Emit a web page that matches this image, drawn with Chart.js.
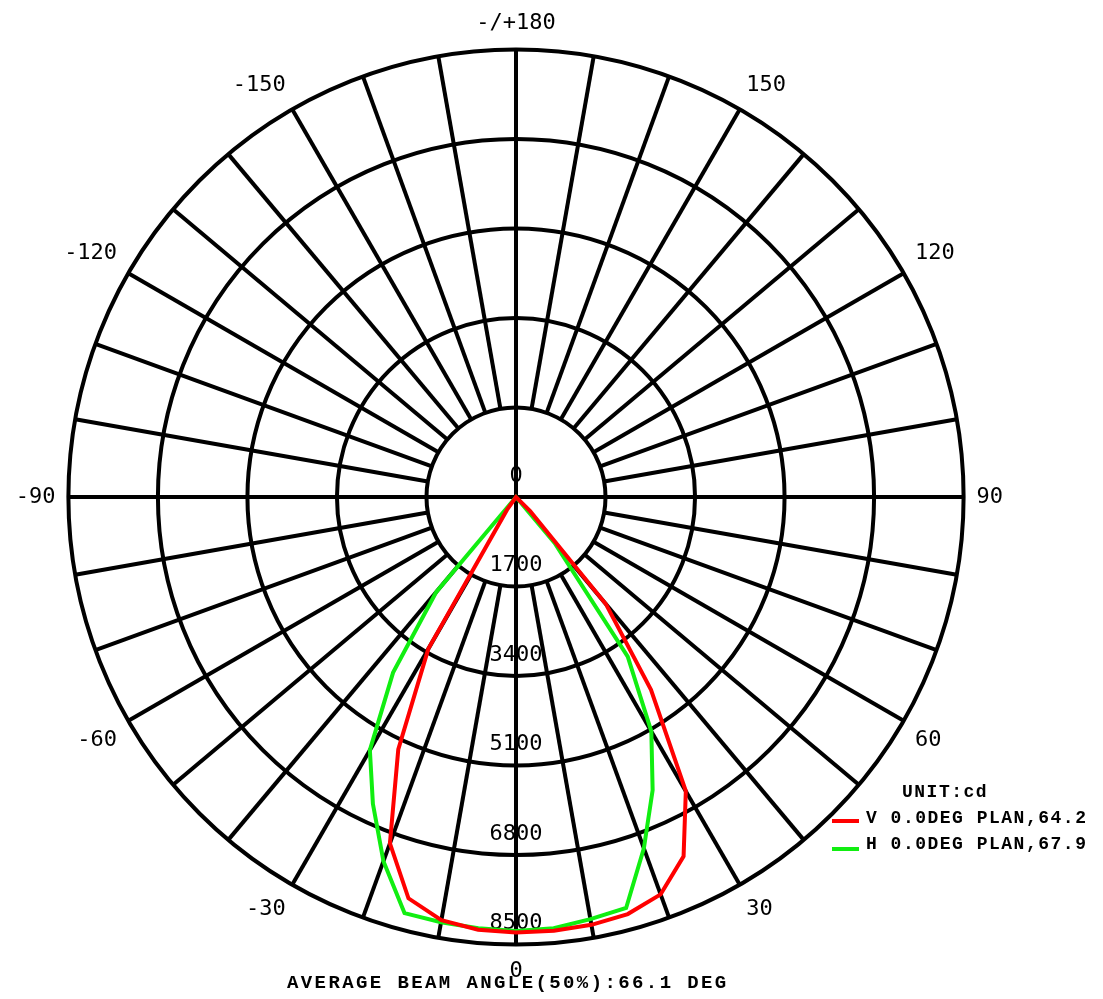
<!DOCTYPE html>
<html>
<head>
<meta charset="utf-8">
<title>Polar intensity diagram</title>
<script src="https://cdn.jsdelivr.net/npm/chart.js@4.4.1/dist/chart.umd.min.js"></script>
<style>
  html, body { margin: 0; padding: 0; background: #fff; width: 1103px; height: 999px; overflow: hidden; }
  #polar { position: absolute; left: -24px; top: 10px; }
  .txt { position: absolute; font-family: "Courier New", "Liberation Mono", monospace; font-weight: bold; color: #000; white-space: nowrap; }
  .legend { font-size: 18px; line-height: 18px; letter-spacing: 1.5px; }
  .swatch { position: absolute; left: 832px; width: 27px; height: 4px; }
  #title { left: 287px; top: 974px; font-size: 19px; line-height: 19px; letter-spacing: 2.4px; }
</style>
</head>
<body>
<canvas id="polar" width="1080" height="974"></canvas>

<div class="txt legend" style="left:902px; top:783px;">UNIT:cd</div>
<div class="swatch" style="top:819px; background:#ff0000;"></div>
<div class="txt legend" id="legV" style="left:866px; top:809px;"></div>
<div class="swatch" style="top:847px; background:#11ee11;"></div>
<div class="txt legend" id="legH" style="left:866px; top:835px;"></div>
<div class="txt" id="title">AVERAGE BEAM ANGLE(50%):66.1 DEG</div>

<script>
// angles (deg), going round from 0 (bottom) through -90 (left), 180 (top), 90 (right)
const angleLabels = [0, -5, -10, -15, -20, -25, -30, -35, -40, -45, -50, -55, -60, -65, -70, -75, -80, -85,
  -90, -95, -100, -105, -110, -115, -120, -125, -130, -135, -140, -145, -150, -155, -160, -165, -170, -175,
  180, 175, 170, 165, 160, 155, 150, 145, 140, 135, 130, 125, 120, 115, 110, 105, 100, 95,
  90, 85, 80, 75, 70, 65, 60, 55, 50, 45, 40, 35, 30, 25, 20, 15, 10, 5];

// cd, same order as angleLabels
const vPlane = [8270, 8250, 8160, 7890, 7000, 5290, 3330, 300, 0, 0, 0, 0, 0, 0, 0, 0, 0, 0,
  0, 0, 0, 0, 0, 0, 0, 0, 0, 0, 0, 0, 0, 0, 0, 0, 0, 0,
  0, 0, 0, 0, 0, 0, 0, 0, 0, 0, 0, 0, 0, 0, 0, 0, 0, 0,
  0, 0, 0, 0, 0, 0, 0, 0, 0, 380, 2660, 4470, 6450, 7530, 8030, 8200, 8250, 8270];

const hPlane = [8240, 8220, 8200, 8180, 7360, 6430, 5550, 4070, 2360, 0, 0, 0, 0, 0, 0, 0, 0, 0,
  0, 0, 0, 0, 0, 0, 0, 0, 0, 0, 0, 0, 0, 0, 0, 0, 0, 0,
  0, 0, 0, 0, 0, 0, 0, 0, 0, 0, 0, 0, 0, 0, 0, 0, 0, 0,
  0, 0, 0, 0, 0, 0, 0, 0, 0, 0, 1140, 3700, 5140, 6140, 7100, 8080, 8140, 8220];

const ringValues = [0, 1700, 3400, 5100, 6800, 8500];
const seriesNames = ['V 0.0DEG PLAN,64.2', 'H 0.0DEG PLAN,67.9'];
const seriesColors = ['#ff0000', '#11ee11'];

document.getElementById('legV').textContent = seriesNames[0];
document.getElementById('legH').textContent = seriesNames[1];

const labelFont = { family: '"DejaVu Sans Mono", monospace', size: 22 };
const gridWidth = 4;

// short spokes every 10 deg (from first ring out) + ring values along the 0 axis
const gridExtras = {
  id: 'gridExtras',
  beforeDatasetsDraw(chart) {
    const r = chart.scales.r;
    const ctx = chart.ctx;
    const inner = r.getDistanceFromCenterForValue(ringValues[1]);
    const outer = r.getDistanceFromCenterForValue(ringValues[ringValues.length - 1]);
    ctx.save();
    ctx.strokeStyle = '#000';
    ctx.lineWidth = gridWidth;
    angleLabels.forEach((a, i) => {
      if (a % 10 !== 0 || a % 90 === 0) return;
      const p1 = r.getPointPosition(i, inner);
      const p2 = r.getPointPosition(i, outer);
      ctx.beginPath();
      ctx.moveTo(p1.x, p1.y);
      ctx.lineTo(p2.x, p2.y);
      ctx.stroke();
    });
    ctx.fillStyle = '#000';
    ctx.font = labelFont.size + 'px ' + labelFont.family;
    ctx.textAlign = 'center';
    ctx.textBaseline = 'middle';
    ringValues.forEach(v => {
      const p = r.getPointPosition(0, r.getDistanceFromCenterForValue(v));
      ctx.fillText(String(v), p.x, p.y - 21);
    });
    ctx.restore();
  }
};

new Chart(document.getElementById('polar'), {
  type: 'radar',
  data: {
    labels: angleLabels,
    datasets: [
      { label: seriesNames[0], data: vPlane, borderColor: seriesColors[0], borderWidth: 4, pointRadius: 0, fill: false },
      { label: seriesNames[1], data: hPlane, borderColor: seriesColors[1], borderWidth: 4, pointRadius: 0, fill: false }
    ]
  },
  options: {
    responsive: false,
    animation: false,
    devicePixelRatio: 1,
    plugins: { legend: { display: false }, tooltip: { enabled: false } },
    elements: { line: { tension: 0 } },
    scales: {
      r: {
        startAngle: 180,
        min: 0,
        max: 8500,
        ticks: { display: false, stepSize: 1700 },
        grid: { circular: true, color: '#000', lineWidth: gridWidth },
        angleLines: {
          color: '#000',
          lineWidth: (c) => (angleLabels[c.index] % 90 === 0 ? gridWidth : 0)
        },
        pointLabels: {
          display: true,
          padding: 13,
          color: '#000',
          font: labelFont,
          callback: (label) => {
            if (label % 30 !== 0) return '';
            return label === 180 ? '-/+180' : String(label);
          }
        }
      }
    }
  },
  plugins: [gridExtras]
});
</script>
</body>
</html>
